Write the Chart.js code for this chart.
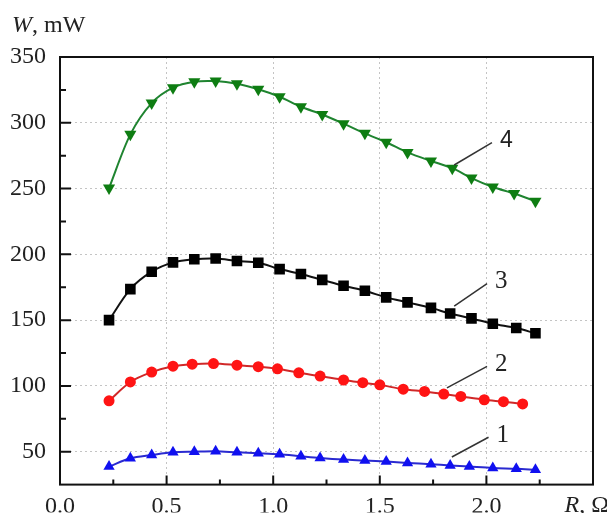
<!DOCTYPE html>
<html>
<head>
<meta charset="utf-8">
<script src="https://cdn.jsdelivr.net/npm/chart.js@4.4.1/dist/chart.umd.min.js"></script>
<style>
  html, body { margin: 0; padding: 0; background: #fff; }
  #wrap { width: 607px; height: 513px; }
</style>
</head>
<body>
<div id="wrap"><canvas id="myChart" width="607" height="513"></canvas></div>
<script>
// values (R in ohm, W in mW)
const xCurve1 = [0.23, 0.33, 0.43, 0.53, 0.63, 0.73, 0.83, 0.93, 1.03, 1.13, 1.22, 1.33, 1.43, 1.53, 1.63, 1.74, 1.83, 1.92, 2.03, 2.14, 2.23];
const wCurve1 = [38.7, 45, 47.5, 49.6, 50, 50.3, 49.5, 48.8, 48, 46.5, 45.2, 44, 43.3, 42.5, 41.5, 40.5, 39.6, 38.7, 37.6, 37, 36.2];

const xCurve2 = [0.23, 0.33, 0.43, 0.53, 0.62, 0.72, 0.83, 0.93, 1.02, 1.12, 1.22, 1.33, 1.42, 1.50, 1.61, 1.71, 1.80, 1.88, 1.99, 2.08, 2.17];
const wCurve2 = [88.7, 103, 110.5, 115, 116.5, 117, 115.8, 114.6, 113, 110, 107.5, 104.5, 102.5, 100.8, 97.5, 95.8, 93.8, 92, 89.5, 88, 86.3];

const xCurve3 = [0.23, 0.33, 0.43, 0.53, 0.63, 0.73, 0.83, 0.93, 1.03, 1.13, 1.23, 1.33, 1.43, 1.53, 1.63, 1.74, 1.83, 1.93, 2.03, 2.14, 2.23];
const wCurve3 = [150, 173.6, 186.8, 193.9, 196.3, 196.8, 195, 193.6, 188.8, 185.1, 180.6, 176.1, 172.3, 167.3, 163.5, 159.3, 155, 151.3, 147.3, 144, 140];

const xCurve4 = [0.23, 0.33, 0.43, 0.53, 0.63, 0.73, 0.83, 0.93, 1.03, 1.13, 1.23, 1.33, 1.43, 1.53, 1.63, 1.74, 1.84, 1.93, 2.03, 2.13, 2.23];
const wCurve4 = [250.4, 291.2, 315, 326.7, 331.2, 331.7, 329.7, 325.5, 319.8, 312.2, 306.3, 299.3, 292, 285.2, 277.5, 271, 265.5, 258, 251.2, 246.2, 240.4];

const xTickVals = [0, 0.5, 1.0, 1.5, 2.0];
const yTickVals = [50, 100, 150, 200, 250, 300, 350];

// curve numbers with their leader lines (data coords)
const curveNames = ["1", "2", "3", "4"];
const leaderFrom = [[1.838, 46], [1.815, 98.5], [1.849, 160.6], [1.849, 267.9]];
const leaderTo = [[2.01, 61], [2.003, 114.8], [2.003, 177.8], [2.026, 285]];

const SERIF = '"Times New Roman", "Liberation Serif", serif';

function pts(xs, ys) {
  return xs.map((v, i) => ({ x: v, y: ys[i] }));
}

// frame, inward ticks, curve numbers and axis titles
const framePlugin = {
  id: "framePlugin",
  afterDraw(chart) {
    const { ctx, chartArea: a, scales } = chart;
    const x = scales.x, y = scales.y;
    ctx.save();
    ctx.strokeStyle = "#111";
    ctx.lineWidth = 2;
    ctx.strokeRect(a.left, a.top, a.right - a.left, a.bottom - a.top);

    ctx.beginPath();
    for (let v = 0.25; v < 2.5; v += 0.25) {
      const px = x.getPixelForValue(v);
      const major = Math.abs(v * 2 - Math.round(v * 2)) < 1e-6;
      ctx.moveTo(px, a.bottom);
      ctx.lineTo(px, a.bottom - (major ? 9 : 5));
    }
    for (let v = 50; v < 350; v += 25) {
      const py = y.getPixelForValue(v);
      const major = v % 50 === 0;
      ctx.moveTo(a.left, py);
      ctx.lineTo(a.left + (major ? 11 : 6), py);
    }
    ctx.stroke();

    // leader lines + numbers
    ctx.strokeStyle = "#333";
    ctx.lineWidth = 1.5;
    ctx.fillStyle = "#222";
    ctx.textBaseline = "middle";
    curveNames.forEach((name, i) => {
      const x0 = x.getPixelForValue(leaderFrom[i][0]);
      const y0 = y.getPixelForValue(leaderFrom[i][1]);
      const x1 = x.getPixelForValue(leaderTo[i][0]);
      const y1 = y.getPixelForValue(leaderTo[i][1]);
      ctx.beginPath();
      ctx.moveTo(x0, y0);
      ctx.lineTo(x1, y1);
      ctx.stroke();
      ctx.font = name === "4" ? '23px "Liberation Sans", Arial, sans-serif' : "25px " + SERIF;
      ctx.textAlign = "left";
      ctx.fillText(name, x1 + 8, y1 - 2);
    });

    // axis titles
    ctx.fillStyle = "#222";
    ctx.textBaseline = "alphabetic";
    ctx.textAlign = "left";
    ctx.font = "italic 24px " + SERIF;
    let tx = 12;
    ctx.fillText("W", tx, 32);
    tx += ctx.measureText("W").width;
    ctx.font = "24px " + SERIF;
    ctx.fillText(", mW", tx, 32);

    const ty = y.bottom + 27;
    ctx.font = "24px " + SERIF;
    const tail = ", \u03A9";
    const tailW = ctx.measureText(tail).width;
    ctx.textAlign = "right";
    ctx.fillText(tail, 609, ty);
    ctx.font = "italic 24px " + SERIF;
    ctx.fillText("R", 609 - tailW, ty);
    ctx.restore();
  }
};

const ctx = document.getElementById("myChart").getContext("2d");
const myChart = new Chart(ctx, {
  type: "scatter",
  data: {
    datasets: [
      {
        label: "1",
        data: pts(xCurve1, wCurve1),
        borderColor: "#2a2ad0",
        backgroundColor: "#1010f0",
        pointStyle: "triangle",
        pointRadius: 6.5,
        pointBorderWidth: 0
      },
      {
        label: "2",
        data: pts(xCurve2, wCurve2),
        borderColor: "#d02828",
        backgroundColor: "#ff1414",
        pointStyle: "circle",
        pointRadius: 5.5,
        pointBorderWidth: 0
      },
      {
        label: "3",
        data: pts(xCurve3, wCurve3),
        borderColor: "#111",
        backgroundColor: "#000",
        pointStyle: "rect",
        pointRadius: 7.5,
        pointBorderWidth: 0
      },
      {
        label: "4",
        data: pts(xCurve4, wCurve4),
        borderColor: "#1f8430",
        backgroundColor: "#0e7d12",
        pointStyle: "triangle",
        rotation: 180,
        pointRotation: 180,
        pointRadius: 7,
        pointBorderWidth: 0
      }
    ]
  },
  options: {
    responsive: false,
    animation: false,
    showLine: true,
    elements: {
      line: { borderWidth: 2, tension: 0.3 }
    },
    layout: {
      padding: { top: 57, right: 14, left: 0, bottom: 0 }
    },
    plugins: {
      legend: { display: false },
      tooltip: { enabled: false }
    },
    scales: {
      x: {
        type: "linear",
        min: 0,
        max: 2.5,
        afterBuildTicks: (scale) => {
          scale.ticks = xTickVals.map((v) => ({ value: v }));
        },
        afterFit: (scale) => {
          scale.height = 28;
        },
        ticks: {
          padding: 8,
          color: "#222",
          font: { family: SERIF, size: 24 },
          maxRotation: 0,
          callback: (v) => Number(v).toFixed(1)
        },
        grid: {
          drawTicks: false,
          lineWidth: 1,
          color: (c) => (c.tick && c.tick.value > 0 ? "#c4c4c4" : "rgba(0,0,0,0)")
        },
        border: { display: false, dash: [2, 3] }
      },
      y: {
        min: 25,
        max: 350,
        afterBuildTicks: (scale) => {
          scale.ticks = yTickVals.map((v) => ({ value: v }));
        },
        afterFit: (scale) => {
          scale.width = 60;
        },
        ticks: {
          padding: 14,
          color: "#222",
          font: { family: SERIF, size: 24 }
        },
        grid: {
          drawTicks: false,
          lineWidth: 1,
          color: (c) => (c.tick && c.tick.value < 350 ? "#c4c4c4" : "rgba(0,0,0,0)")
        },
        border: { display: false, dash: [2, 3] }
      }
    }
  },
  plugins: [framePlugin]
});
</script>
</body>
</html>
